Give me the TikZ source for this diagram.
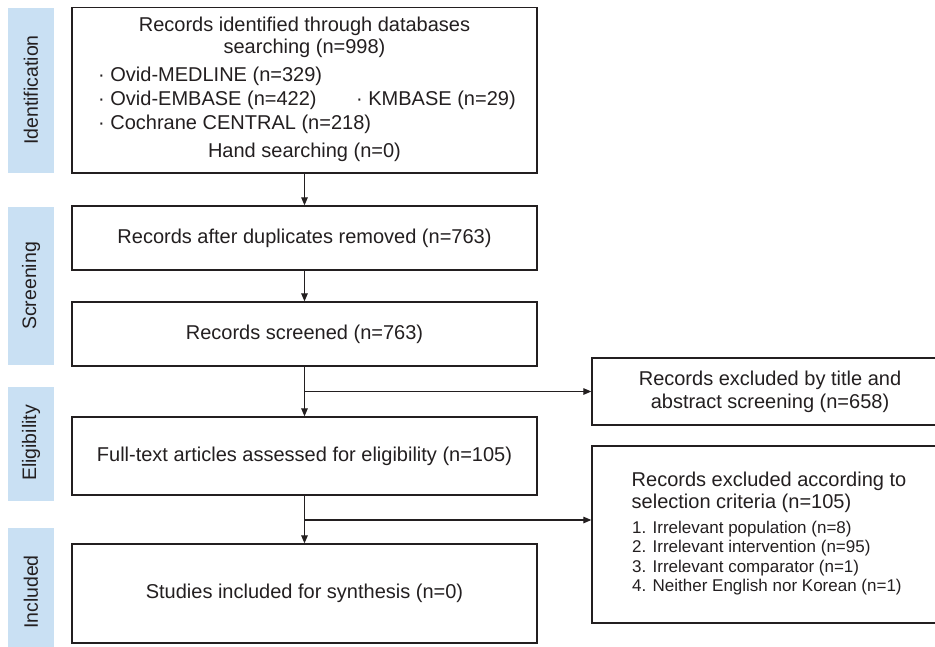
\documentclass[tikz,border=0pt]{standalone}
\usepackage{fontspec}
\setmainfont{Liberation Sans}
\usetikzlibrary{arrows.meta}
\definecolor{ink}{HTML}{231F20}
\definecolor{stage}{HTML}{C9E0F3}
\begin{document}
\begin{tikzpicture}[x=1pt,y=-1pt,
  box/.style={draw=ink, line width=1.3pt, fill=white, inner sep=0pt, text=ink,
              font=\fontsize{20}{22.7}\selectfont},
  stagebar/.style={fill=stage, draw=none, inner sep=0pt},
  stagetext/.style={rotate=90, text=ink, inner sep=0pt, font=\fontsize{19.5}{22}\selectfont},
  txt/.style={text=ink, inner sep=0pt, font=\fontsize{20}{22.7}\selectfont},
  small/.style={text=ink, inner sep=0pt, font=\fontsize{17}{19}\selectfont},
  flow/.style={draw=ink, line width=1.2pt, -{Triangle[length=8pt,width=6.5pt]}},
]
\fill[white] (0,0) rectangle (935,646);
\useasboundingbox (0,0) rectangle (935,646);

% stage bars on the left
\node[stagebar, minimum width=46, minimum height=165] (s1) at (31,90.5) {};
\node[stagebar, minimum width=46, minimum height=158] (s2) at (31,286) {};
\node[stagebar, minimum width=46, minimum height=114] (s3) at (31,443.5) {};
\node[stagebar, minimum width=46, minimum height=124] (s4) at (31,590) {};
\node[stagetext] (l1) at (31,90) {Identification};
\node[stagetext] (l2) at (31,286) {Screening};
\node[stagetext] (l3) at (31,443) {Eligibility};
\node[stagetext] (l4) at (31,592) {Included};

% main column
\node[box, minimum width=465, minimum height=165.6] (b1) at (304.5,90.2) {};
\node[txt] (t1) at (304.5,26.8) {Records identified through databases};
\node[txt] (t2) at (304.5,48.6) {searching (n=998)};
\node[txt, anchor=west] (t3) at (98,76) {· Ovid-MEDLINE (n=329)};
\node[txt, anchor=west] (t4) at (98,100) {· Ovid-EMBASE (n=422)};
\node[txt, anchor=west] (t5) at (356,100) {· KMBASE (n=29)};
\node[txt, anchor=west] (t6) at (98,124.4) {· Cochrane CENTRAL (n=218)};
\node[txt] (t7) at (304.5,152.5) {Hand searching (n=0)};

\node[box, minimum width=465, minimum height=64] (b2) at (304.5,238) {Records after duplicates removed (n=763)};
\node[box, minimum width=465, minimum height=64] (b3) at (304.5,334) {Records screened (n=763)};
\node[box, minimum width=465, minimum height=78] (b4) at (304.5,456) {Full-text articles assessed for eligibility (n=105)};
\node[box, minimum width=465, minimum height=99] (b5) at (304.5,593.5) {Studies included for synthesis (n=0)};

% exclusion boxes on the right (running off the right edge)
\node[box, minimum width=356, minimum height=67, align=center] (r1) at (770,391.5)
  {Records excluded by title and\\abstract screening (n=658)};
\node[box, minimum width=356, minimum height=177] (r2) at (770,534.5) {};
\node[txt, anchor=west] (r2a) at (631.5,481) {Records excluded according to};
\node[txt, anchor=west] (r2b) at (631.5,503.5) {selection criteria (n=105)};
\node[small, anchor=west] (r2c) at (632,529.5) {1. Irrelevant population (n=8)};
\node[small, anchor=west] (r2d) at (632,548.5) {2. Irrelevant intervention (n=95)};
\node[small, anchor=west] (r2e) at (632,568) {3. Irrelevant comparator (n=1)};
\node[small, anchor=west] (r2f) at (632,587) {4. Neither English nor Korean (n=1)};

% connectors
\draw[flow] (b1.south) -- (b2.north);
\draw[flow] (b2.south) -- (b3.north);
\draw[flow] (b3.south) -- (b4.north);
\draw[flow] (b4.south) -- (b5.north);
\coordinate (j1) at (b3.south |- r1.west);
\coordinate (j2) at (304.5,520);
\draw[flow] (j1) -- (r1.west);
\draw[flow] (j2) -- (j2 -| r2.west);
\end{tikzpicture}
\end{document}
